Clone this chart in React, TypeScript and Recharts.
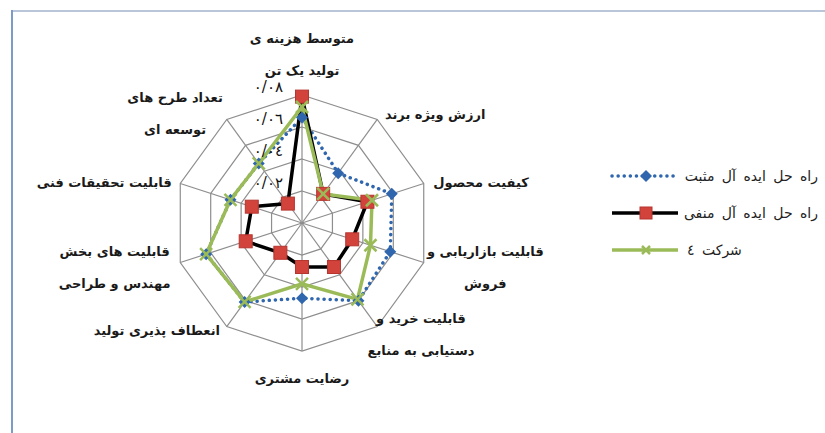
import { RadarChart, Radar, PolarGrid, PolarAngleAxis, PolarRadiusAxis, Legend } from 'recharts'

const categories = [
  'متوسط هزینه ی|تولید یک تن',
  'ارزش ویژه برند',
  'کیفیت محصول',
  'قابلیت بازاریابی و|فروش',
  'قابلیت خرید و|دستیابی به منابع',
  'رضایت مشتری',
  'انعطاف پذیری تولید',
  'قابلیت های بخش|مهندس و طراحی',
  'قابلیت تحقیقات فنی',
  'تعداد طرح های|توسعه ای',
]

const positiveIdeal = [0.066, 0.0385, 0.059, 0.058, 0.06, 0.047, 0.061, 0.063, 0.047, 0.046]
const negativeIdeal = [0.079, 0.0225, 0.043, 0.033, 0.034, 0.0275, 0.023, 0.037, 0.033, 0.015]
const company4 = [0.0725, 0.0225, 0.046, 0.045, 0.059, 0.038, 0.061, 0.063, 0.047, 0.046]

const radiusTicks = [0, 0.02, 0.04, 0.06, 0.08]
const radiusLabels = ['', '٠/٠٢', '٠/٠٤', '٠/٠٦', '٠/٠٨']

const seriesNames = ['راه حل ایده آل مثبت', 'راه حل ایده آل منفی', 'شرکت ٤']

const data = categories.map((name, i) => ({
  name,
  pos: positiveIdeal[i],
  neg: negativeIdeal[i],
  c4: company4[i],
}))

const BLUE = '#2f66ad'
const RED = '#d2433c'
const GREEN = '#9bbb59'
const GRID = '#8e8e8e'
const FONT = '"DejaVu Sans", sans-serif'

// label placement relative to the tick point, per axis: [dx, dy, anchor]
const labelPos: [number, number, string][] = [
  [0, -33, 'middle'],
  [3, 2, 'start'],
  [2, 2, 'start'],
  [54, 2, 'middle'],
  [39, 1, 'middle'],
  [0, 19, 'middle'],
  [-2, -3, 'end'],
  [-58, 2, 'middle'],
  [-1, 2, 'end'],
  [-47, 1, 'middle'],
]

const AngleTick = ({ x, y, payload, index }: any) => {
  const [dx, dy, anchor] = labelPos[index] ?? [0, 0, 'middle']
  const lines = String(payload.value).split('|')
  const startY = y + dy - ((lines.length - 1) * 32) / 2
  return (
    <g>
      {lines.map((l, i) => (
        <text
          key={i}
          x={x + dx}
          y={startY + i * 32}
          textAnchor={anchor as any}
          dominantBaseline="central"
          fontSize={13}
          fontWeight="bold"
          fontFamily={FONT}
          fill="#1a1a1a"
        >
          {l}
        </text>
      ))}
    </g>
  )
}

const RadiusTick = ({ x, y, payload }: any) => {
  const idx = radiusTicks.indexOf(payload.value)
  const label = radiusLabels[idx]
  if (!label) return null
  return (
    <text x={x - 19} y={y - 8} textAnchor="end" dominantBaseline="central" fontSize={15} fontFamily={FONT} fill="#111">
      {label}
    </text>
  )
}

const Diamond = ({ cx, cy, s = 6 }: any) => (
  <path d={`M${cx},${cy - s}L${cx + s},${cy}L${cx},${cy + s}L${cx - s},${cy}Z`} fill={BLUE} />
)
const Square = ({ cx, cy, s = 13 }: any) => (
  <rect x={cx - s / 2} y={cy - s / 2} width={s} height={s} fill={RED} stroke="#b7352f" strokeWidth={1} />
)
const Cross = ({ cx, cy, s = 6 }: any) => (
  <g stroke={GREEN} strokeWidth={2.5}>
    <line x1={cx - s} y1={cy - s} x2={cx + s} y2={cy + s} />
    <line x1={cx - s} y1={cy + s} x2={cx + s} y2={cy - s} />
  </g>
)

const LegendBox = () => {
  const rows = [
    { name: seriesNames[0], line: <line x1={4} y1={10} x2={70} y2={10} stroke={BLUE} strokeWidth={3.5} strokeDasharray="0.1 6" strokeLinecap="round" />, mark: <Diamond cx={38} cy={10} /> },
    { name: seriesNames[1], line: <line x1={4} y1={10} x2={70} y2={10} stroke="#000" strokeWidth={3.5} />, mark: <Square cx={38} cy={10} s={12} /> },
    { name: seriesNames[2], line: <line x1={4} y1={10} x2={70} y2={10} stroke={GREEN} strokeWidth={3.5} />, mark: <Cross cx={38} cy={10} s={4} /> },
  ]
  return (
    <div style={{ width: 210 }}>
      {rows.map((r) => (
        <div key={r.name} style={{ display: 'flex', alignItems: 'center', height: 37 }}>
          <svg width={74} height={20}>
            {r.line}
            {r.mark}
          </svg>
          <span style={{ fontFamily: FONT, fontSize: 14, wordSpacing: 3, color: '#222', marginLeft: 5, whiteSpace: 'nowrap' }}>
            {r.name}
          </span>
        </div>
      ))}
    </div>
  )
}

export default function App() {
  return (
    <div style={{ position: 'relative', width: 825, height: 433, overflow: 'hidden', background: '#fff' }}>
      <style>{'body{margin:0}'}</style>
      <div style={{ position: 'absolute', left: 12, top: 10, width: 813, height: 2, background: '#b9c5d8' }} />
      <div style={{ position: 'absolute', left: 11, top: 10, width: 2, height: 423, background: '#7e9ac6' }} />
      <RadarChart width={825} height={433} cx={302} cy={223} outerRadius={128} data={data} margin={{ top: 0, right: 0, bottom: 0, left: 0 }}>
        <PolarGrid gridType="polygon" stroke={GRID} strokeWidth={1.2} />
        <PolarAngleAxis dataKey="name" tick={<AngleTick />} tickLine={false} axisLine={false} />
        <PolarRadiusAxis
          angle={90}
          domain={[0, 0.08]}
          ticks={radiusTicks as any}
          tickCount={5}
          axisLine={false}
          tickLine={false}
          tick={<RadiusTick />}
        />
        <Radar
          name={seriesNames[0]}
          dataKey="pos"
          stroke={BLUE}
          strokeWidth={3.5}
          strokeDasharray="0.1 6"
          strokeLinecap="round"
          fill="none"
          fillOpacity={0}
          dot={(p: any) => <Diamond key={`d${p.index}`} cx={p.cx} cy={p.cy} />}
          isAnimationActive={false}
        />
        <Radar
          name={seriesNames[1]}
          dataKey="neg"
          stroke="#000"
          strokeWidth={3.5}
          fill="none"
          fillOpacity={0}
          dot={(p: any) => <Square key={`s${p.index}`} cx={p.cx} cy={p.cy} />}
          isAnimationActive={false}
        />
        <Radar
          name={seriesNames[2]}
          dataKey="c4"
          stroke={GREEN}
          strokeWidth={3.5}
          fill="none"
          fillOpacity={0}
          dot={(p: any) => <Cross key={`c${p.index}`} cx={p.cx} cy={p.cy} />}
          isAnimationActive={false}
        />
        <Legend
          layout="vertical"
          verticalAlign="top"
          align="left"
          content={<LegendBox />}
          wrapperStyle={{ left: 608, top: 157, width: 210 }}
        />
      </RadarChart>
    </div>
  )
}
